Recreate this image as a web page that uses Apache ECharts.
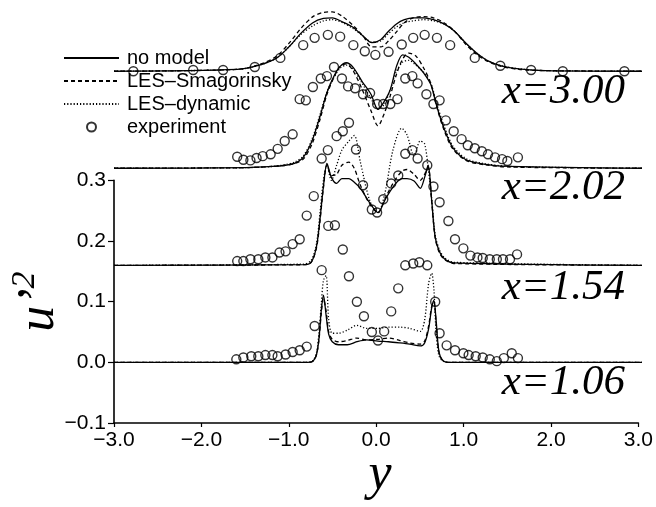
<!DOCTYPE html>
<html>
<head>
<meta charset="utf-8">
<script src="https://cdn.jsdelivr.net/npm/echarts@6/dist/echarts.min.js"></script>
<style>
html, body { margin: 0; padding: 0; background: #fff; }
#chart { width: 656px; height: 507px; }
</style>
</head>
<body>
<div id="chart"></div>
<script>
// Streamwise stations and the vertical shift applied to each stacked profile
const stations = ['x=1.06', 'x=1.54', 'x=2.02', 'x=3.00'];
const offsets = [0, 0.16, 0.32, 0.48];
const models = ['no model', 'LES–Smagorinsky', 'LES–dynamic'];
const expName = 'experiment';
const xTicks = [-3, -2, -1, 0, 1, 2, 3];
const yTicks = [-0.1, 0, 0.1, 0.2, 0.3];

// ---- x = 1.06 ----
const y106 = [-3, -0.80, -0.74, -0.70, -0.67, -0.645, -0.62, -0.59, -0.56, -0.52, -0.45, -0.35, -0.24, -0.13, 0, 0.12, 0.25, 0.36, 0.48, 0.53, 0.575, 0.61, 0.635, 0.66, 0.69, 0.73, 0.80, 3];
const noModel106 = [0, 0, 0.002, 0.012, 0.040, 0.085, 0.111, 0.078, 0.046, 0.034, 0.029, 0.029, 0.034, 0.037, 0.035, 0.034, 0.032, 0.030, 0.027, 0.032, 0.055, 0.090, 0.102, 0.070, 0.020, 0.004, 0, 0];
const smag106 = [0, 0, 0.002, 0.012, 0.038, 0.080, 0.105, 0.085, 0.050, 0.038, 0.034, 0.036, 0.040, 0.037, 0.038, 0.040, 0.036, 0.032, 0.030, 0.035, 0.060, 0.092, 0.100, 0.066, 0.018, 0.004, 0, 0];
const dyn106 = [0, 0, 0.003, 0.015, 0.050, 0.095, 0.135, 0.143, 0.070, 0.048, 0.048, 0.053, 0.061, 0.056, 0.056, 0.058, 0.058, 0.056, 0.051, 0.070, 0.130, 0.147, 0.120, 0.050, 0.012, 0.003, 0, 0];
const yExp106 = [-1.61, -1.53, -1.44, -1.36, -1.28, -1.20, -1.14, -1.05, -0.97, -0.89, -0.81, -0.72, -0.64, -0.565, -0.49, -0.40, -0.33, -0.24, -0.16, -0.07, 0.00, 0.07, 0.15, 0.23, 0.31, 0.40, 0.47, 0.56, 0.65, 0.70, 0.78, 0.875, 0.97, 1.03, 1.11, 1.19, 1.27, 1.35, 1.43, 1.52, 1.59];
const exp106 = [0.005, 0.008, 0.010, 0.010, 0.012, 0.012, 0.010, 0.013, 0.017, 0.020, 0.026, 0.060, 0.152, 0.225, 0.226, 0.186, 0.142, 0.100, 0.076, 0.050, 0.036, 0.051, 0.084, 0.122, 0.160, 0.163, 0.165, 0.160, 0.100, 0.048, 0.028, 0.020, 0.015, 0.012, 0.010, 0.008, 0.005, 0.002, 0.007, 0.015, 0.007];

// ---- x = 1.54 ----
const y154 = [-3, -0.85, -0.76, -0.70, -0.66, -0.62, -0.58, -0.53, -0.47, -0.41, -0.33, -0.27, -0.20, -0.09, 0, 0.08, 0.17, 0.27, 0.33, 0.41, 0.48, 0.53, 0.57, 0.61, 0.65, 0.70, 0.76, 0.86, 3];
const noModel154 = [0, 0.001, 0.005, 0.030, 0.075, 0.130, 0.168, 0.145, 0.135, 0.143, 0.143, 0.137, 0.127, 0.102, 0.087, 0.108, 0.129, 0.143, 0.143, 0.139, 0.127, 0.145, 0.165, 0.107, 0.046, 0.022, 0.010, 0.004, 0];
const smag154 = [0, 0.001, 0.005, 0.028, 0.072, 0.128, 0.165, 0.148, 0.150, 0.165, 0.170, 0.160, 0.132, 0.100, 0.087, 0.110, 0.135, 0.155, 0.158, 0.150, 0.140, 0.150, 0.162, 0.105, 0.045, 0.020, 0.009, 0.003, 0];
const dyn154 = [0, 0.002, 0.008, 0.035, 0.085, 0.140, 0.165, 0.140, 0.165, 0.190, 0.205, 0.214, 0.170, 0.105, 0.087, 0.120, 0.190, 0.226, 0.215, 0.180, 0.205, 0.200, 0.160, 0.110, 0.050, 0.025, 0.012, 0.005, 0];
const yExp154 = [-1.60, -1.53, -1.45, -1.36, -1.28, -1.20, -1.12, -1.05, -0.97, -0.89, -0.81, -0.73, -0.64, -0.57, -0.47, -0.40, -0.33, -0.25, -0.17, -0.07, -0.01, 0.06, 0.15, 0.23, 0.31, 0.39, 0.45, 0.56, 0.63, 0.70, 0.80, 0.875, 0.97, 1.05, 1.13, 1.19, 1.27, 1.35, 1.42, 1.50, 1.58];
const exp154 = [0.007, 0.007, 0.010, 0.010, 0.013, 0.013, 0.021, 0.023, 0.035, 0.043, 0.082, 0.114, 0.176, 0.190, 0.213, 0.221, 0.235, 0.191, 0.132, 0.092, 0.087, 0.109, 0.135, 0.148, 0.184, 0.190, 0.176, 0.165, 0.130, 0.104, 0.073, 0.043, 0.028, 0.016, 0.013, 0.012, 0.010, 0.010, 0.010, 0.010, 0.018];

// ---- x = 2.02 ----
const y202 = [-3, -1.5, -1.2, -1.05, -0.95, -0.85, -0.75, -0.66, -0.58, -0.50, -0.43, -0.36, -0.28, -0.18, -0.08, 0, 0.07, 0.14, 0.21, 0.28, 0.35, 0.43, 0.52, 0.60, 0.67, 0.75, 0.85, 1.0, 1.2, 1.5, 3];
const noModel202 = [0, 0.001, 0.003, 0.005, 0.008, 0.018, 0.045, 0.085, 0.125, 0.152, 0.168, 0.174, 0.166, 0.143, 0.122, 0.097, 0.110, 0.130, 0.168, 0.187, 0.183, 0.172, 0.157, 0.138, 0.101, 0.066, 0.034, 0.014, 0.007, 0.003, 0];
const smag202 = [0, 0.001, 0.003, 0.005, 0.008, 0.015, 0.040, 0.080, 0.122, 0.150, 0.168, 0.172, 0.160, 0.130, 0.095, 0.070, 0.090, 0.120, 0.155, 0.180, 0.190, 0.185, 0.165, 0.140, 0.100, 0.063, 0.032, 0.013, 0.006, 0.002, 0];
const dyn202 = [0, 0.001, 0.003, 0.006, 0.010, 0.020, 0.048, 0.088, 0.126, 0.150, 0.165, 0.170, 0.163, 0.140, 0.115, 0.098, 0.105, 0.130, 0.160, 0.175, 0.178, 0.170, 0.158, 0.140, 0.105, 0.070, 0.037, 0.016, 0.008, 0.003, 0];
const yExp202 = [-1.60, -1.53, -1.45, -1.38, -1.31, -1.22, -1.14, -1.06, -0.97, -0.89, -0.82, -0.74, -0.65, -0.58, -0.50, -0.41, -0.34, -0.26, -0.17, -0.09, -0.01, 0.06, 0.14, 0.22, 0.31, 0.39, 0.45, 0.55, 0.63, 0.70, 0.77, 0.86, 0.95, 1.02, 1.10, 1.18, 1.25, 1.33, 1.41, 1.47, 1.59];
const exp202 = [0.019, 0.014, 0.013, 0.017, 0.020, 0.023, 0.032, 0.045, 0.056, 0.114, 0.112, 0.134, 0.148, 0.152, 0.167, 0.148, 0.135, 0.132, 0.122, 0.124, 0.106, 0.106, 0.106, 0.114, 0.148, 0.152, 0.140, 0.122, 0.106, 0.112, 0.079, 0.061, 0.048, 0.038, 0.033, 0.028, 0.023, 0.018, 0.015, 0.012, 0.018];

// ---- x = 3.00 ----
const y300 = [-3, -1.6, -1.35, -1.15, -1.0, -0.88, -0.74, -0.62, -0.52, -0.40, -0.28, -0.17, -0.07, 0.03, 0.12, 0.21, 0.30, 0.40, 0.52, 0.63, 0.75, 0.87, 1.0, 1.12, 1.25, 1.4, 1.6, 1.9, 3];
const noModel300 = [0, 0.003, 0.010, 0.022, 0.042, 0.062, 0.080, 0.087, 0.088, 0.081, 0.072, 0.058, 0.047, 0.052, 0.066, 0.078, 0.085, 0.088, 0.088, 0.085, 0.078, 0.066, 0.046, 0.030, 0.017, 0.009, 0.004, 0.001, 0];
const smag300 = [0, 0.003, 0.011, 0.025, 0.048, 0.070, 0.090, 0.097, 0.098, 0.090, 0.075, 0.058, 0.040, 0.040, 0.050, 0.065, 0.080, 0.088, 0.090, 0.088, 0.080, 0.066, 0.044, 0.028, 0.016, 0.008, 0.003, 0.001, 0];
const dyn300 = [0, 0.003, 0.010, 0.022, 0.042, 0.060, 0.075, 0.083, 0.085, 0.080, 0.070, 0.058, 0.048, 0.050, 0.062, 0.073, 0.080, 0.083, 0.085, 0.083, 0.078, 0.066, 0.046, 0.030, 0.017, 0.009, 0.004, 0.001, 0];
const yExp300 = [-2.78, -2.10, -1.76, -1.40, -1.11, -0.85, -0.72, -0.57, -0.43, -0.28, -0.15, -0.03, 0.12, 0.27, 0.40, 0.53, 0.67, 0.82, 1.10, 1.39, 1.74, 2.10, 2.80];
const exp300 = [0.000, 0.002, 0.002, 0.007, 0.022, 0.043, 0.055, 0.060, 0.057, 0.043, 0.033, 0.027, 0.032, 0.044, 0.055, 0.060, 0.055, 0.043, 0.022, 0.009, 0.002, 0.000, 0.000];

const profiles = [
  { y: y106, lines: [noModel106, smag106, dyn106], ey: yExp106, ev: exp106 },
  { y: y154, lines: [noModel154, smag154, dyn154], ey: yExp154, ev: exp154 },
  { y: y202, lines: [noModel202, smag202, dyn202], ey: yExp202, ev: exp202 },
  { y: y300, lines: [noModel300, smag300, dyn300], ey: yExp300, ev: exp300 }
];

const lineTypes = ['solid', [4, 3], [1.2, 2]];
const SANS = '"Liberation Sans", Arial, Helvetica, sans-serif';
const SERIF = '"Liberation Serif", "Times New Roman", serif';

const fmtTick = v => (v < 0 ? '\u2212' : '') + Math.abs(v).toFixed(1);

const series = [];
profiles.forEach((p, k) => {
  p.lines.forEach((vals, m) => {
    series.push({
      type: 'line',
      name: models[m],
      xAxisIndex: 0,
      yAxisIndex: 0,
      data: p.y.map((yy, i) => [yy, vals[i] + offsets[k]]),
      symbol: 'none',
      showSymbol: false,
      smooth: 0.3,
      silent: true,
      clip: false,
      lineStyle: { color: '#000', width: 1.3, type: lineTypes[m] },
      itemStyle: { color: '#000' },
      z: 3
    });
  });
  series.push({
    type: 'scatter',
    name: expName,
    xAxisIndex: 0,
    yAxisIndex: 0,
    data: p.ey.map((yy, i) => [yy, p.ev[i] + offsets[k]]),
    symbol: 'circle',
    symbolSize: 9,
    silent: true,
    clip: false,
    itemStyle: { color: 'rgba(255,255,255,0)', borderColor: '#000', borderWidth: 1.4 },
    z: 4
  });
});

// Axis-only panel: visible scale spans -0.1 .. 0.3, data panel spans the full stack
const AXIS_BOTTOM = 84;
const PX_PER_UNIT = 606.5;
const dataTop = 0;
const dataMax = -0.1 + (507 - AXIS_BOTTOM - dataTop) / PX_PER_UNIT;
const axisTop = 507 - AXIS_BOTTOM - 0.4 * PX_PER_UNIT;

const legendData = models.map(n => ({ name: n, itemStyle: { opacity: 0 } })).concat([{ name: expName }]);

const chart = echarts.init(document.getElementById('chart'), null, { renderer: 'canvas' });
chart.setOption({
  animation: false,
  backgroundColor: '#fff',
  grid: [
    { left: 114, right: 14, top: dataTop, bottom: AXIS_BOTTOM },
    { left: 114, right: 14, top: axisTop, bottom: AXIS_BOTTOM }
  ],
  xAxis: [
    { gridIndex: 0, type: 'value', min: -3, max: 3, show: false },
    {
      gridIndex: 1, type: 'value', min: xTicks[0], max: xTicks[xTicks.length - 1], interval: 1,
      axisLine: { onZero: false, lineStyle: { color: '#000', width: 1.6 } },
      axisTick: { inside: false, length: 4, lineStyle: { color: '#000', width: 1.2 } },
      axisLabel: { margin: 7, color: '#000', fontSize: 21, fontFamily: SANS, formatter: fmtTick },
      splitLine: { show: false }
    }
  ],
  yAxis: [
    { gridIndex: 0, type: 'value', min: -0.1, max: dataMax, show: false },
    {
      gridIndex: 1, type: 'value', min: yTicks[0], max: yTicks[yTicks.length - 1], interval: 0.1,
      axisLine: { show: true, onZero: false, lineStyle: { color: '#000', width: 1.6 } },
      axisTick: { show: true, inside: false, length: 6, lineStyle: { color: '#000', width: 1.2 } },
      axisLabel: { margin: 8, color: '#000', fontSize: 21, fontFamily: SANS, formatter: fmtTick },
      splitLine: { show: false }
    }
  ],
  legend: {
    data: legendData,
    orient: 'vertical',
    left: 63,
    top: 48,
    padding: 0,
    itemWidth: 55,
    itemHeight: 9,
    itemGap: 3,
    selectedMode: false,
    textStyle: { fontSize: 20, fontFamily: SANS, color: '#000', padding: [0, 0, 0, 3] }
  },
  graphic: [
    { type: 'text', x: 625, y: 92, style: { text: stations[3], font: 'italic 43px ' + SERIF, fill: '#000', textAlign: 'right', textVerticalAlign: 'middle' } },
    { type: 'text', x: 625, y: 188, style: { text: stations[2], font: 'italic 43px ' + SERIF, fill: '#000', textAlign: 'right', textVerticalAlign: 'middle' } },
    { type: 'text', x: 625, y: 288, style: { text: stations[1], font: 'italic 43px ' + SERIF, fill: '#000', textAlign: 'right', textVerticalAlign: 'middle' } },
    { type: 'text', x: 625, y: 383, style: { text: stations[0], font: 'italic 43px ' + SERIF, fill: '#000', textAlign: 'right', textVerticalAlign: 'middle' } },
    { type: 'text', x: 380, y: 475, style: { text: 'y', font: 'italic 52px ' + SERIF, fill: '#000', textAlign: 'center', textVerticalAlign: 'middle' } },
    { type: 'text', x: 39, y: 310, rotation: Math.PI / 2, style: { text: 'u\u2019', font: 'italic 52px ' + SERIF, fill: '#000', textAlign: 'center', textVerticalAlign: 'middle' } },
    { type: 'text', x: 25, y: 280, rotation: Math.PI / 2, style: { text: '2', font: 'italic 34px ' + SERIF, fill: '#000', textAlign: 'center', textVerticalAlign: 'middle' } }
  ],
  series: series
});
</script>
</body>
</html>
